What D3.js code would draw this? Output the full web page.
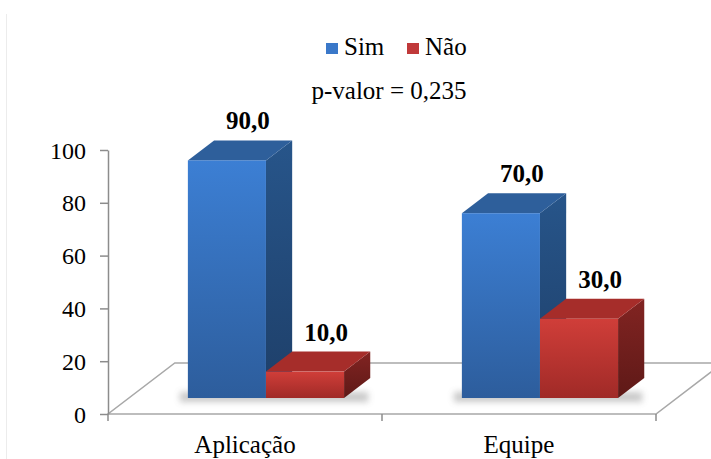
<!DOCTYPE html>
<html>
<head>
<meta charset="utf-8">
<script src="https://cdn.jsdelivr.net/npm/d3@7"></script>
<style>
  html, body { margin: 0; padding: 0; background: #fff; }
  svg { display: block; }
</style>
</head>
<body>
<svg id="chart" width="711" height="459" font-family="Liberation Serif, Times New Roman, serif"></svg>
<script>
// Data
const categories = ["Aplicação", "Equipe"];
const seriesNames = ["Sim", "Não"];
const simValues = [90.0, 70.0];
const naoValues = [10.0, 30.0];
const yTicks = [0, 20, 40, 60, 80, 100];
const pValueText = "p-valor = 0,235";

const seriesValues = [simValues, naoValues];
const rows = categories.map((c, i) => ({
  category: c,
  values: seriesNames.map((s, k) => ({ series: s, value: seriesValues[k][i] }))
}));

const svg = d3.select("#chart");
const W = 711, H = 459;

// Plot frame (front plane of the 3D floor)
const plotLeft = 108, plotRight = 656, floorFront = 414, plotTop = 150;
const slope = 1.31;              // dx per dy of the oblique projection
const floorDepth = 51;           // vertical rise of the floor's back edge
const barFrontDy = 16;           // bars stand slightly behind the front edge
const barDepthDy = 20;           // depth of each bar

const x0 = d3.scaleBand().domain(categories).range([plotLeft, plotRight]);
const groupW = x0.bandwidth() * 0.57;
const x1 = d3.scaleBand().domain(seriesNames).range([0, groupW]);
const y = d3.scaleLinear().domain([0, 100]).range([floorFront, plotTop]);

const palette = {
  "Sim": { front: ["#3c7fd4", "#2d5d9c"], side: ["#27558a", "#1e3f69"], top: "#2e5f9b" },
  "Não": { front: ["#d03e39", "#a02a27"], side: ["#822422", "#5e1917"], top: "#a62d2a" }
};

// Text layer first, so labels use the serif face consistently
const textLayer = svg.append("g").attr("class", "labels");

const defs = svg.append("defs");
seriesNames.forEach((s, i) => {
  const p = palette[s];
  const gf = defs.append("linearGradient").attr("id", "front" + i)
    .attr("x1", 0).attr("y1", 0).attr("x2", 0).attr("y2", 1);
  gf.append("stop").attr("offset", "0%").attr("stop-color", p.front[0]);
  gf.append("stop").attr("offset", "100%").attr("stop-color", p.front[1]);
  const gs = defs.append("linearGradient").attr("id", "side" + i)
    .attr("x1", 0).attr("y1", 0).attr("x2", 0).attr("y2", 1);
  gs.append("stop").attr("offset", "0%").attr("stop-color", p.side[0]);
  gs.append("stop").attr("offset", "100%").attr("stop-color", p.side[1]);
});
defs.append("filter").attr("id", "soft").attr("x", "-20%").attr("y", "-100%")
  .attr("width", "140%").attr("height", "300%")
  .append("feGaussianBlur").attr("stdDeviation", 3);

// faint outer border
svg.append("line").attr("x1", 6.5).attr("x2", 6.5).attr("y1", 14).attr("y2", H)
  .attr("stroke", "#ececec").attr("stroke-width", 1);

// Floor
const fdx = floorDepth * slope;
const floorPts = [
  [plotLeft, floorFront], [plotRight, floorFront],
  [plotRight + fdx, floorFront - floorDepth], [plotLeft + fdx, floorFront - floorDepth]
];
svg.append("path")
  .attr("d", d3.line()(floorPts) + "Z")
  .attr("fill", "#fff").attr("stroke", "#a8a8a8").attr("stroke-width", 1.5);

// Category separators on the front edge
const sepX = categories.map(c => x0(c)).concat([x0.range()[1]]);
svg.append("g").selectAll("line").data(sepX).join("line")
  .attr("x1", d => d).attr("x2", d => d)
  .attr("y1", floorFront).attr("y2", floorFront + 7)
  .attr("stroke", "#8c8c8c").attr("stroke-width", 1.5);

// Y axis
const yAxis = d3.axisLeft(y).tickValues(yTicks).tickSize(8).tickSizeOuter(0).tickPadding(14);
const gy = svg.append("g").attr("transform", `translate(${plotLeft},0)`).call(yAxis);
gy.attr("font-family", null).attr("font-size", 24);
gy.select(".domain").attr("stroke", "#8c8c8c").attr("stroke-width", 1.5);
gy.selectAll(".tick line").attr("stroke", "#8c8c8c").attr("stroke-width", 1.5);
gy.selectAll(".tick text").attr("fill", "#000").attr("dy", "0.34em");

// Bars
const bdx0 = barFrontDy * slope, bdx = barDepthDy * slope;
const groups = svg.append("g").selectAll("g.group").data(rows).join("g")
  .attr("class", "group")
  .attr("transform", d => `translate(${x0(d.category) + (x0.bandwidth() - groupW) / 2 + bdx0},${-barFrontDy})`);

// soft shadow beneath each group
groups.append("rect")
  .attr("x", -8).attr("y", y(0) - 6)
  .attr("width", groupW + bdx + 6).attr("height", 10)
  .attr("fill", "#888").attr("opacity", 0.45).attr("filter", "url(#soft)");

const bars = groups.selectAll("g.bar").data(d => d.values).join("g").attr("class", "bar");

bars.each(function(d, i) {
  const g = d3.select(this);
  const xa = x1(d.series), xb = xa + x1.bandwidth();
  const yt = y(d.value), yb = y(0);
  // right side face
  g.append("path")
    .attr("d", d3.line()([[xb, yt], [xb + bdx, yt - barDepthDy], [xb + bdx, yb - barDepthDy], [xb, yb]]) + "Z")
    .attr("fill", `url(#side${i})`);
  // top face
  g.append("path")
    .attr("d", d3.line()([[xa, yt], [xa + bdx, yt - barDepthDy], [xb + bdx, yt - barDepthDy], [xb, yt]]) + "Z")
    .attr("fill", palette[d.series].top);
  // front face
  g.append("rect")
    .attr("x", xa).attr("y", yt).attr("width", x1.bandwidth()).attr("height", yb - yt)
    .attr("fill", `url(#front${i})`);
});

// Value labels
svg.append("g").selectAll("text")
  .data(rows.flatMap(r => r.values.map(v => ({ category: r.category, ...v }))))
  .join("text")
  .attr("x", d => x0(d.category) + (x0.bandwidth() - groupW) / 2 + bdx0 + x1(d.series) + x1.bandwidth() / 2 + 21)
  .attr("y", d => y(d.value) - barFrontDy - barDepthDy - 11)
  .attr("text-anchor", "middle")
  .attr("font-size", 25).attr("font-weight", "bold")
  .attr("fill", "#000")
  .text(d => d3.format(".1f")(d.value).replace(".", ","));

// Category labels
textLayer.selectAll("text.cat").data(categories).join("text")
  .attr("class", "cat")
  .attr("x", d => x0(d) + x0.bandwidth() / 2)
  .attr("y", 453)
  .attr("text-anchor", "middle")
  .attr("font-size", 25)
  .attr("fill", "#000")
  .text(d => d);

// Legend
const legendItems = [
  { name: "Sim", color: "#3a78c9", x: 326 },
  { name: "Não", color: "#c0393a", x: 407 }
];
const lg = textLayer.selectAll("g.legend").data(legendItems).join("g")
  .attr("class", "legend")
  .attr("transform", d => `translate(${d.x},0)`);
lg.append("rect").attr("x", 0).attr("y", 43).attr("width", 12).attr("height", 11)
  .attr("fill", d => d.color);
lg.append("text").attr("x", 18).attr("y", 55)
  .attr("font-size", 25)
  .attr("fill", "#000").text(d => d.name);

// p-value annotation
textLayer.append("text").attr("x", 389).attr("y", 99).attr("text-anchor", "middle")
  .attr("font-size", 25)
  .attr("fill", "#000").text(pValueText);
</script>
</body>
</html>
